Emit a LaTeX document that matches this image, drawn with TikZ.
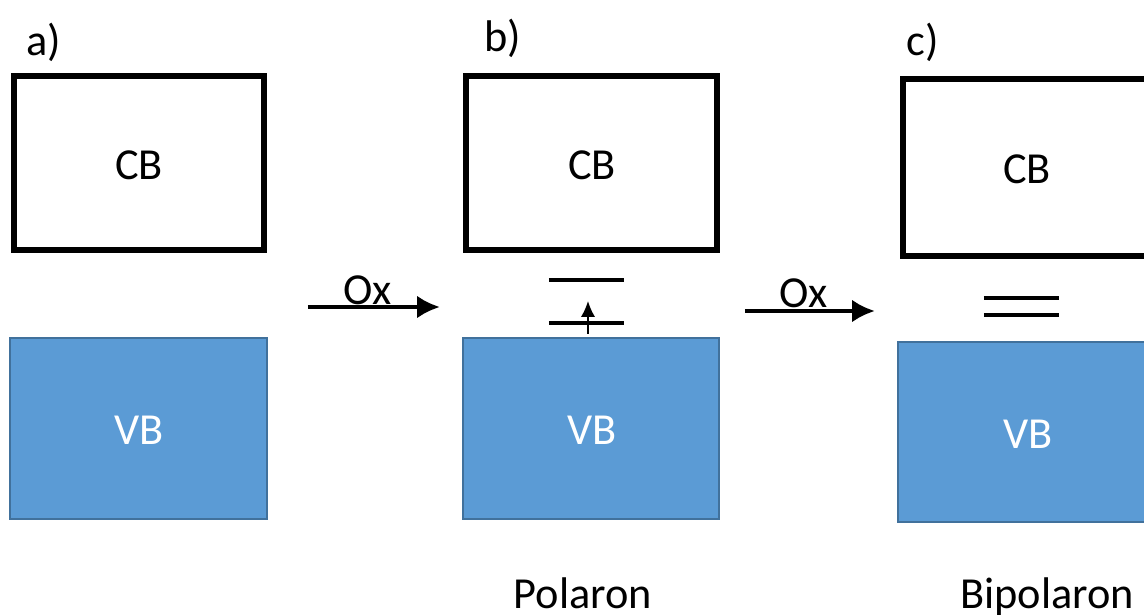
\documentclass[tikz,border=0pt]{standalone}
\usepackage{fontspec}
\setmainfont{Carlito}
\usetikzlibrary{arrows.meta}
\definecolor{vbfill}{HTML}{5B9BD5}
\definecolor{vbedge}{HTML}{41719C}
\begin{document}
\begin{tikzpicture}[x=0.01cm,y=-0.01cm,
  txt/.style={font=\fontsize{12.6}{15}\selectfont, inner sep=0pt},
  cbbox/.style={draw=black, line width=1.45pt, fill=white},
  vbbox/.style={draw=vbedge, line width=0.5pt, fill=vbfill},
  level/.style={line width=1.05pt},
  oxarrow/.style={line width=1.35pt, -{Latex[length=6.5pt,width=6.5pt]}}]
\useasboundingbox (0,0) rectangle (1144,615);
\begin{scope}
\clip (0,0) rectangle (1144,615);
% panel a
\node[txt] (la) at (44,42) {a)};
\draw[cbbox] (14,76) rectangle (264,250);
\node[txt] (cba) at (139,165) {CB};
\draw[vbbox] (10,338) rectangle (267,519);
\node[txt, text=white] (vba) at (139,430) {VB};
% panel b
\node[txt] (lb) at (503,38) {b)};
\draw[cbbox] (466,76) rectangle (717,250);
\node[txt] (cbb) at (592,165) {CB};
\draw[vbbox] (463,338) rectangle (719,519);
\node[txt, text=white] (vbb) at (592,430) {VB};
\coordinate (pu1) at (549,280); \coordinate (pu2) at (624,280);
\coordinate (pl1) at (549,323); \coordinate (pl2) at (624,323);
\draw[level] (pu1) -- (pu2);
\draw[level] (pl1) -- (pl2);
\coordinate (ea) at (588,334); \coordinate (eb) at (588,301);
\draw[line width=0.45pt, -{Latex[length=4.5pt,width=4pt]}] (ea) -- (eb);
\node[txt] (pol) at (583,593) {Polaron};
% panel c
\node[txt] (lc) at (923,42) {c)};
\draw[cbbox] (903,79) rectangle (1160,256);
\node[txt] (cbc) at (1027,169) {CB};
\draw[vbbox] (898,342) rectangle (1160,522);
\node[txt, text=white] (vbc) at (1028,434) {VB};
\coordinate (bu1) at (984,298); \coordinate (bu2) at (1059,298);
\coordinate (bl1) at (984,315); \coordinate (bl2) at (1059,315);
\draw[level] (bu1) -- (bu2);
\draw[level] (bl1) -- (bl2);
\node[txt] (bip) at (1047,597) {Bipolaron};
% oxidation arrows
\coordinate (o1s) at (308,307); \coordinate (o1e) at (440,307);
\draw[oxarrow] (o1s) -- (o1e);
\node[txt] (ox1) at (368,290) {Ox};
\coordinate (o2s) at (745,311); \coordinate (o2e) at (875,311);
\draw[oxarrow] (o2s) -- (o2e);
\node[txt] (ox2) at (804,293) {Ox};
\end{scope}
\end{tikzpicture}
\end{document}
